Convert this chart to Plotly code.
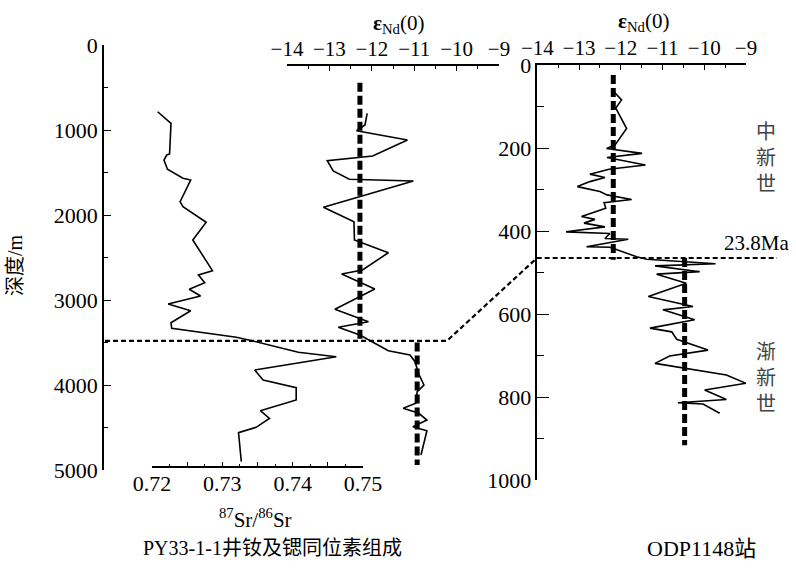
import plotly.graph_objects as go

# ---------------- data ----------------
# PY33-1-1 well: 87Sr/86Sr vs depth (m)
sr_depth = [785, 921, 1282, 1294, 1353, 1462, 1568, 1588, 1844, 1902, 2086, 2294, 2655, 2706,
            2796, 2874, 2953, 3047, 3126, 3267, 3333, 3439, 3479, 3615, 3667, 3824, 3941, 4032,
            4176, 4302, 4392, 4498, 4561, 4902]
sr_ratio = [0.7208, 0.7227, 0.7225, 0.7221, 0.7217, 0.7222, 0.7244, 0.7255, 0.7240, 0.7244,
            0.7277, 0.7258, 0.7286, 0.7266, 0.7275, 0.7253, 0.7269, 0.7223, 0.7255, 0.7227,
            0.7228, 0.7320, 0.7342, 0.7408, 0.7462, 0.7346, 0.7358, 0.7405, 0.7405, 0.7354,
            0.7367, 0.7348, 0.7323, 0.7327]

# PY33-1-1 well: eNd(0) vs depth (m)
nd_py_depth = [804, 941, 1008, 1118, 1306, 1361, 1482, 1580, 1600, 1909, 2079, 2294, 2444, 2647,
               2694, 2871, 3109, 3255, 3321, 3412, 3509, 3596, 3647, 3726, 3862, 4000, 4079, 4215,
               4274, 4333, 4412, 4491, 4538, 4824]
nd_py = [-12.11, -12.16, -12.36, -11.16, -11.98, -13.05, -12.91, -12.53, -11.02, -13.14, -12.42,
         -12.41, -11.61, -12.22, -12.71, -11.93, -12.87, -12.08, -12.79, -12.28, -11.93, -11.61,
         -11.10, -10.98, -10.90, -10.77, -10.93, -10.96, -11.26, -10.89, -10.70, -11.03, -10.70,
         -10.84]

# ODP1148: eNd(0) vs depth (m)
odp_depth = [64, 84, 104, 153, 193, 201, 213, 223, 241, 251, 263, 271, 281, 293, 305, 313, 324,
             332, 345, 365, 372, 381, 390, 402, 406, 418, 420, 438, 439, 462, 468,
             479, 484, 498, 504, 526, 558, 582, 590, 614, 634, 643, 661, 687, 701, 719, 747, 767,
             783, 806, 814, 817, 839]
odp_nd = [-12.17, -11.98, -12.12, -11.86, -12.14, -12.34, -11.49, -12.33, -11.41, -12.28, -12.74,
          -12.38, -12.74, -13.04, -12.50, -12.33, -11.74, -12.40, -12.36, -12.94, -12.62, -12.88,
          -12.38, -13.31, -12.26, -12.38, -11.82, -12.82, -12.26, -11.62, -11.38,
          -9.73, -11.18, -10.11, -11.14, -10.43, -11.34, -10.27, -10.99, -10.23, -11.30, -10.78,
          -10.66, -9.91, -10.83, -11.18, -9.47, -9.00, -9.99, -9.47, -10.63, -10.03, -9.63]

# mean eNd lines (value, top depth, bottom depth)
py_mean_nd = [-12.28, -10.93]
py_mean_top = [443, 3500]
py_mean_bot = [3480, 4940]
odp_mean_nd = [-12.18, -10.47]
odp_mean_top = [24, 465]
odp_mean_bot = [469, 916]

# boundary (23.8 Ma) depths
boundary_py = 3480
boundary_odp = 465

# tick labels
sr_ticks = [0.72, 0.725, 0.73, 0.735, 0.74, 0.745, 0.75]
sr_ticktext = ["0.72", "", "0.73", "", "0.74", "", "0.75"]
nd_ticks = [-14, -13, -12, -11, -10, -9]
nd_ticktext = ["\u221214", "\u221213", "\u221212", "\u221211", "\u221210", "\u22129"]

# ---------------- layout geometry ----------------
W, H = 796, 569
def px(p):
    return p / W
def py(p):
    return 1 - p / H

Y1_DOM = [py(470), py(45)]
Y3_DOM = [py(480), py(65)]
SERIF = "Times New Roman, Liberation Serif, Noto Sans CJK SC, serif"
CJK = "Times New Roman, Liberation Serif, Noto Sans CJK SC, serif"

fig = go.Figure()

line_style = dict(color="black", width=1.6)
fig.add_trace(go.Scatter(x=sr_ratio, y=sr_depth, mode="lines", line=line_style,
                         xaxis="x", yaxis="y", showlegend=False))
fig.add_trace(go.Scatter(x=nd_py, y=nd_py_depth, mode="lines", line=line_style,
                         xaxis="x2", yaxis="y2", showlegend=False))
fig.add_trace(go.Scatter(x=odp_nd, y=odp_depth, mode="lines", line=line_style,
                         xaxis="x3", yaxis="y3", showlegend=False))

thick = dict(color="black", width=5, dash="9px,4px")
for v, t, b in zip(py_mean_nd, py_mean_top, py_mean_bot):
    fig.add_trace(go.Scatter(x=[v, v], y=[t, b], mode="lines", line=thick,
                             xaxis="x2", yaxis="y2", showlegend=False))
for v, t, b in zip(odp_mean_nd, odp_mean_top, odp_mean_bot):
    fig.add_trace(go.Scatter(x=[v, v], y=[t, b], mode="lines", line=thick,
                             xaxis="x3", yaxis="y3", showlegend=False))

# boundary dashed polyline (depth -> paper via axis mapping)
yl = Y1_DOM[1] - boundary_py / 5000 * (Y1_DOM[1] - Y1_DOM[0])
yr = Y3_DOM[1] - boundary_odp / 1000 * (Y3_DOM[1] - Y3_DOM[0])
path = f"M {px(105)} {yl} L {px(447)} {yl} L {px(537)} {yr} L {px(777)} {yr}"
fig.add_shape(type="path", path=path, xref="paper", yref="paper",
              line=dict(color="black", width=2.2, dash="5px,3px"))

tickfont = dict(family=SERIF, size=22, color="black")
topfont = dict(family=SERIF, size=21, color="black")
common = dict(showgrid=False, zeroline=False, showline=True, linecolor="black",
              linewidth=1.5, ticks="inside", tickcolor="black", tickwidth=1.3,
              automargin=False)

fig.update_layout(
    template="none",
    width=W, height=H,
    margin=dict(l=0, r=0, t=0, b=0),
    paper_bgcolor="white", plot_bgcolor="rgba(0,0,0,0)",
    xaxis=dict(domain=[px(152), px(363)], range=[0.72, 0.75], anchor="free",
               position=py(467), side="bottom", tickvals=sr_ticks, ticktext=sr_ticktext,
               ticklen=4, tickfont=tickfont, ticklabelstandoff=-3,
               minor=dict(ticks="inside", ticklen=2, dtick=0.0025, tick0=0.72,
                          tickcolor="black", tickwidth=1.3), **common),
    yaxis=dict(domain=Y1_DOM, range=[5000, 0], anchor="free", position=px(103),
               tickvals=[0, 1000, 2000, 3000, 4000, 5000], ticklen=7, tickfont=tickfont,
               minor=dict(ticks="inside", ticklen=4, dtick=500, tickcolor="black",
                          tickwidth=1.3), **common),
    xaxis2=dict(domain=[px(287), px(499)], range=[-14, -9], anchor="free",
                position=py(65), side="top", tickvals=nd_ticks, ticktext=nd_ticktext,
                ticklen=5, tickfont=topfont,
                minor=dict(ticks="inside", ticklen=3, dtick=0.5, tickcolor="black",
                           tickwidth=1.3), **common),
    yaxis2=dict(domain=Y1_DOM, range=[5000, 0], anchor="x2", visible=False, automargin=False),
    xaxis3=dict(domain=[px(537.3), px(746)], range=[-14, -9], anchor="y3", side="top",
                tickvals=nd_ticks, ticktext=nd_ticktext, ticklen=5, tickfont=topfont,
                minor=dict(ticks="inside", ticklen=3, dtick=0.5, tickcolor="black",
                           tickwidth=1.3), **common),
    yaxis3=dict(domain=Y3_DOM, range=[1000, 0], anchor="x3", side="left",
                tickvals=[0, 200, 400, 600, 800, 1000], ticklen=12, tickfont=tickfont,
                minor=dict(ticks="inside", ticklen=7, dtick=100, tickcolor="black",
                           tickwidth=1.3), **common),
)

def ann(text, x, y, size=20, xanchor="center", angle=0, color="black", family=SERIF):
    fig.add_annotation(text=text, x=x, y=y, xref="paper", yref="paper", showarrow=False,
                       xanchor=xanchor, yanchor="middle", textangle=angle,
                       font=dict(family=family, size=size, color=color))

ann("<b>ε</b><sub>Nd</sub>(0)", px(398), py(24), size=21)
ann("<b>ε</b><sub>Nd</sub>(0)", px(643), py(22), size=21)
ann("<sup>87</sup>Sr/<sup>86</sup>Sr", px(255), py(518), size=21)
ann("深度/m", px(15), py(265), size=20, angle=-90, family=CJK)
ann("中<br>新<br>世", px(766), py(158), size=20, color="#444", family=CJK)
ann("渐<br>新<br>世", px(766), py(378), size=20, color="#444", family=CJK)
ann("23.8Ma", px(722), py(243), size=21, xanchor="left")
ann("PY33-1-1井钕及锶同位素组成", px(272), py(548), size=20, family=CJK)
ann("ODP1148站", px(701), py(548), size=22, family=CJK)

fig.write_html("out.html")
